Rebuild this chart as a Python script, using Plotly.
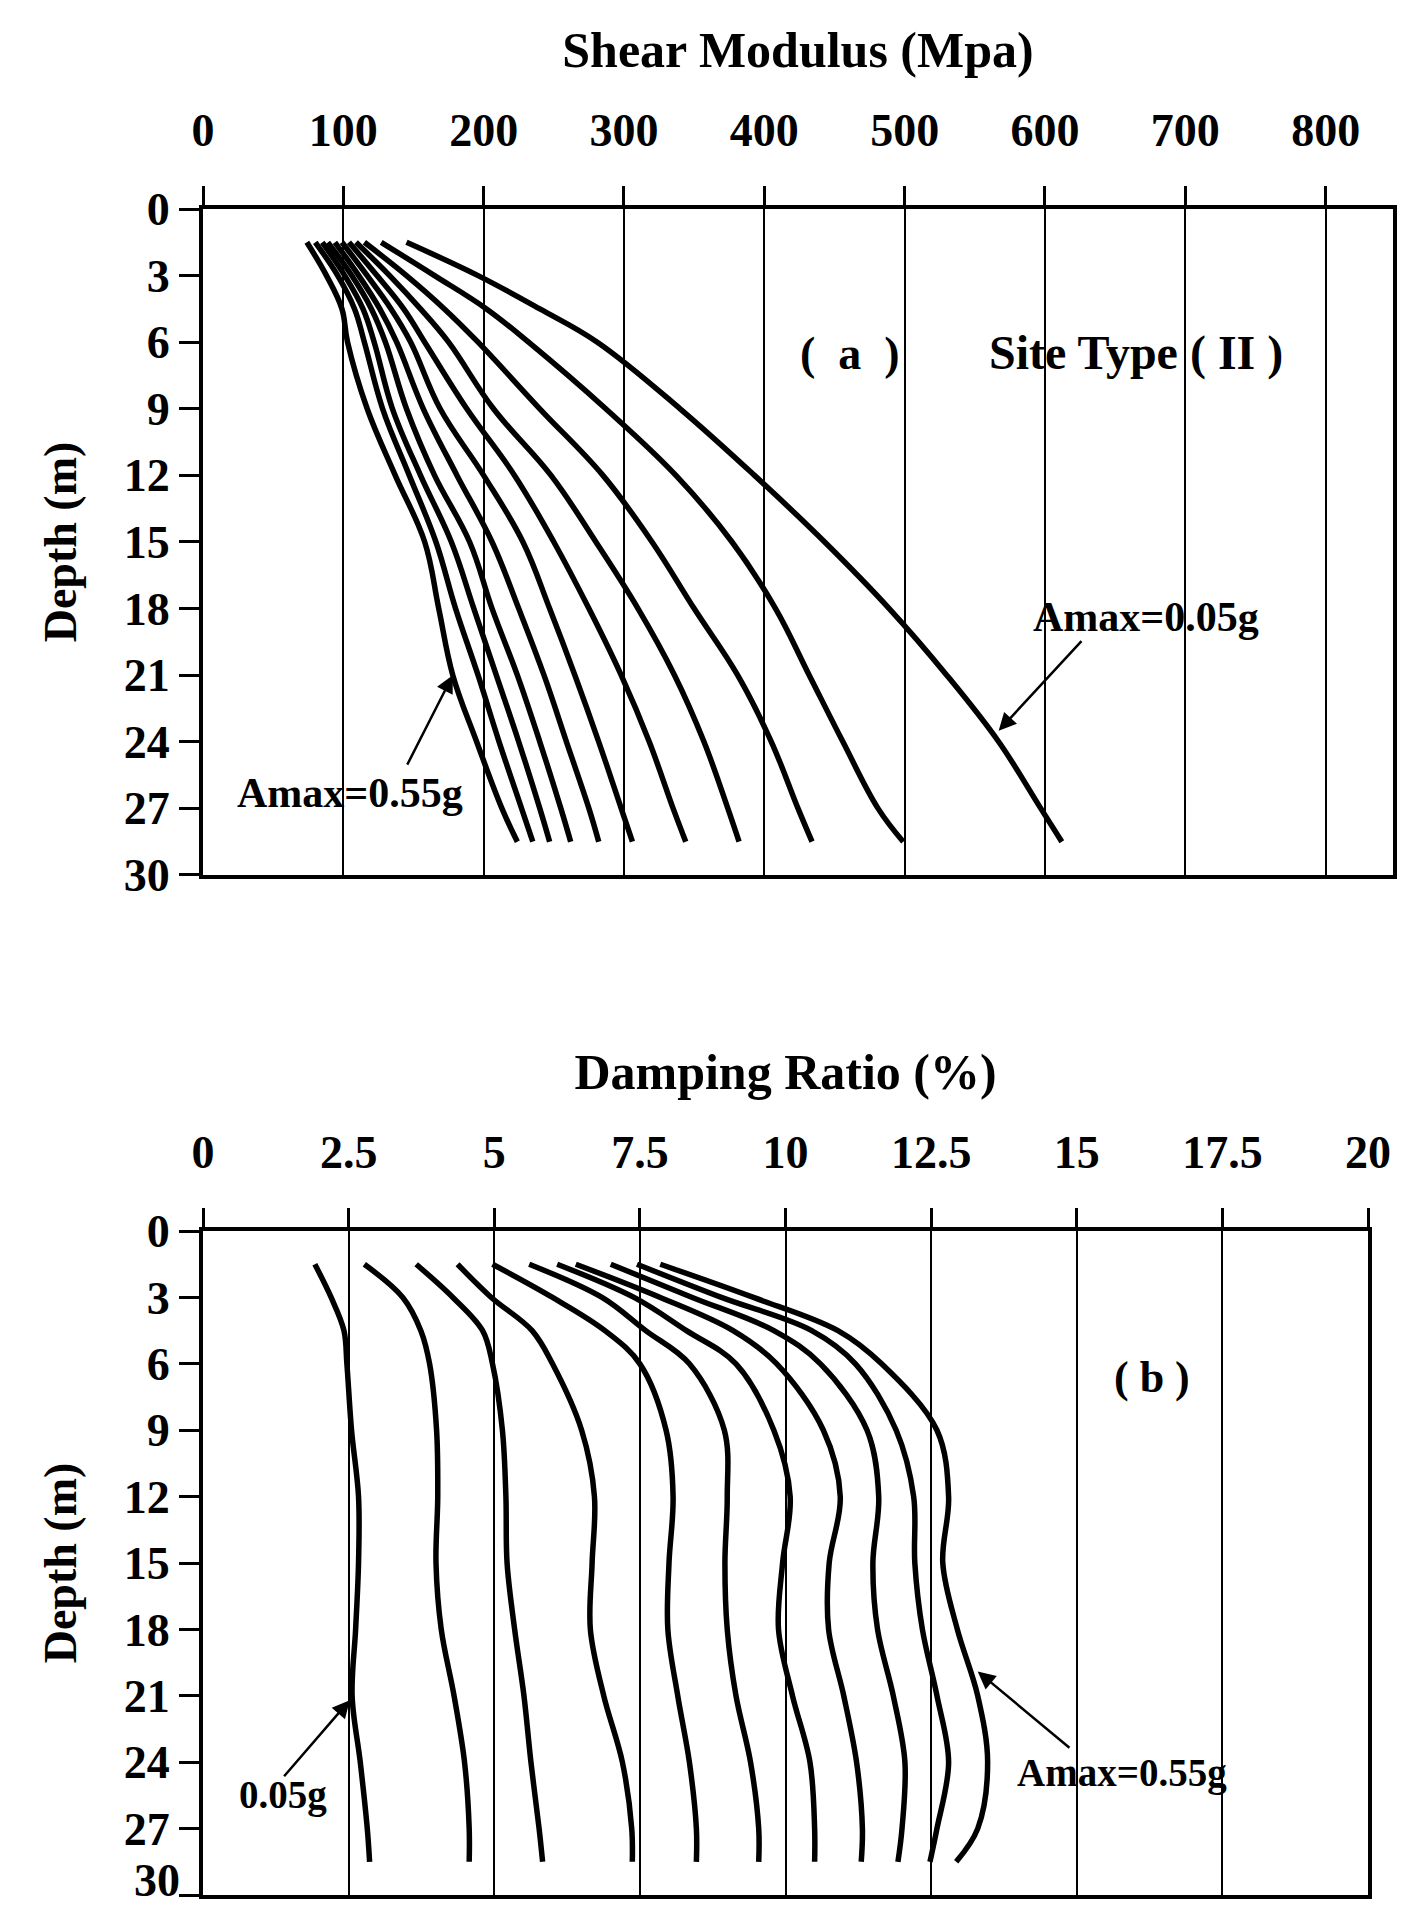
import plotly.graph_objects as go

# ---------------- data ----------------
depth = [1.5, 3, 4.5, 6, 9, 12, 15, 18, 21, 24, 27, 28.5]
amax_labels = ["0.05g", "0.10g", "0.15g", "0.20g", "0.25g", "0.30g",
               "0.35g", "0.40g", "0.45g", "0.50g", "0.55g"]

# Shear modulus (MPa) for each Amax
G_005 = [145, 196, 240, 281, 340, 393, 443, 489, 530, 567, 597, 612]
G_010 = [127, 165, 202, 232, 287, 337, 377, 408, 432, 456, 481, 499]
G_015 = [115, 145, 172, 196, 240, 285, 320, 350, 381, 405, 424, 434]
G_020 = [109, 133, 155, 175, 207, 248, 280, 310, 336, 357, 374, 382]
G_025 = [104, 124, 143, 158, 188, 222, 250, 275, 298, 318, 335, 344]
G_030 = [99, 117, 134, 148, 169, 200, 228, 247, 265, 282, 298, 306]
G_035 = [94, 111, 126, 138, 157, 181, 206, 225, 243, 259, 275, 282]
G_040 = [89, 106, 120, 130, 145, 165, 190, 206, 224, 240, 255, 262]
G_045 = [85, 101, 114, 122, 135, 155, 177, 193, 209, 225, 240, 247]
G_050 = [80, 96, 108, 115, 128, 147, 166, 180, 196, 211, 227, 235]
G_055 = [74, 88, 99, 103, 117, 137, 158, 168, 178, 195, 213, 224]

# Damping ratio (%) for each Amax
D_005 = [1.92, 2.20, 2.42, 2.47, 2.55, 2.67, 2.67, 2.62, 2.56, 2.70, 2.82, 2.86]
D_010 = [2.77, 3.43, 3.74, 3.89, 4.01, 4.03, 4.00, 4.09, 4.31, 4.49, 4.57, 4.57]
D_015 = [3.66, 4.29, 4.80, 4.97, 5.14, 5.20, 5.22, 5.35, 5.51, 5.63, 5.77, 5.83]
D_020 = [4.37, 4.95, 5.65, 6.00, 6.50, 6.72, 6.68, 6.65, 6.88, 7.20, 7.36, 7.37]
D_025 = [4.97, 6.00, 6.90, 7.50, 7.95, 8.07, 8.00, 7.98, 8.15, 8.35, 8.47, 8.47]
D_030 = [5.60, 6.85, 7.60, 8.35, 8.95, 9.00, 8.96, 9.00, 9.15, 9.40, 9.54, 9.54]
D_035 = [6.08, 7.40, 8.30, 9.15, 9.80, 10.08, 9.95, 9.88, 10.12, 10.42, 10.50, 10.50]
D_040 = [6.40, 7.85, 9.10, 9.85, 10.65, 10.94, 10.75, 10.74, 11.00, 11.22, 11.32, 11.30]
D_045 = [7.00, 8.40, 9.80, 10.60, 11.40, 11.60, 11.50, 11.58, 11.85, 12.05, 12.00, 11.93]
D_050 = [7.45, 8.90, 10.45, 11.20, 11.90, 12.20, 12.22, 12.35, 12.60, 12.80, 12.60, 12.48]
D_055 = [7.85, 9.45, 10.90, 11.65, 12.60, 12.80, 12.70, 12.95, 13.30, 13.47, 13.30, 12.93]

G_series = [G_005, G_010, G_015, G_020, G_025, G_030, G_035, G_040, G_045, G_050, G_055]
D_series = [D_005, D_010, D_015, D_020, D_025, D_030, D_035, D_040, D_045, D_050, D_055]

depth_ticks = [0, 3, 6, 9, 12, 15, 18, 21, 24, 27, 30]
depth_ticktext = ["0", "3", "6", "9", "12", "15", "18", "21", "24", "27", "30"]
# lower panel: the last label sits at the page edge, so it is drawn as a nudged annotation
depth_ticktext_low = ["0", "3", "6", "9", "12", "15", "18", "21", "24", "27", ""]
G_ticks = [0, 100, 200, 300, 400, 500, 600, 700, 800]
D_ticks = [0, 2.5, 5, 7.5, 10, 12.5, 15, 17.5, 20]
D_ticktext = ["0", "2.5", "5", "7.5", "10", "12.5", "15", "17.5", "20"]

# ---------------- figure ----------------
FONT = "Liberation Serif, Times New Roman, serif"
fig = go.Figure()

for name, g in zip(amax_labels, G_series):
    fig.add_trace(go.Scatter(x=g, y=depth, mode="lines", name=name,
                             line=dict(color="black", width=5.5, shape="spline", smoothing=1.1),
                             xaxis="x", yaxis="y"))
for name, d in zip(amax_labels, D_series):
    fig.add_trace(go.Scatter(x=d, y=depth, mode="lines", name=name,
                             line=dict(color="black", width=5.5, shape="spline", smoothing=1.0),
                             xaxis="x2", yaxis="y2"))

tickfont = dict(family=FONT, size=46, color="black", weight="bold")
titlefont = dict(family=FONT, size=50, color="black", weight="bold")

xcommon = dict(side="top", ticks="outside", ticklen=19, tickwidth=3, tickcolor="black",
               showline=True, linewidth=4, linecolor="black", mirror=True,
               showgrid=True, gridcolor="black", gridwidth=2, zeroline=False,
               tickfont=tickfont, ticklabelstandoff=22, automargin=False,
               ticklabeloverflow="allow")
ycommon = dict(autorange=False, range=[30, 0], tickvals=depth_ticks, ticks="outside",
               ticklen=20, tickwidth=3, tickcolor="black",
               showline=True, linewidth=4, linecolor="black", mirror=True,
               showgrid=False, zeroline=False, tickfont=tickfont, automargin=False,
               ticklabeloverflow="allow",
               title=dict(text="Depth (m)", font=dict(family=FONT, size=46, color="black", weight="bold"),
                          standoff=34))

fig.update_layout(
    width=1402, height=1905,
    margin=dict(l=203, r=9, t=209, b=10, autoexpand=False),
    paper_bgcolor="white", plot_bgcolor="white",
    showlegend=False,
    font=dict(family=FONT, color="black"),
    xaxis=dict(domain=[0, 1], anchor="y", range=[0, 848], tickvals=G_ticks,
               title=dict(text="Shear Modulus (Mpa)", font=titlefont, standoff=22), **xcommon),
    yaxis=dict(domain=[0.605, 1], anchor="x", ticktext=depth_ticktext, **ycommon),
    xaxis2=dict(domain=[0, 0.979], anchor="y2", range=[0, 20], tickvals=D_ticks,
                ticktext=D_ticktext,
                title=dict(text="Damping Ratio (%)", font=titlefont, standoff=22), **xcommon),
    yaxis2=dict(domain=[0, 0.3938], anchor="x2", ticktext=depth_ticktext_low, **ycommon),
)

afont = dict(family=FONT, size=46, color="black", weight="bold")
bfont = dict(family=FONT, size=44, color="black", weight="bold")
sfont = dict(family=FONT, size=42, color="black", weight="bold")
s2font = dict(family=FONT, size=39, color="black", weight="bold")

def label(x, y, text, xr, yr, font):
    fig.add_annotation(x=x, y=y, text=text, xref=xr, yref=yr, showarrow=False, font=font)

def arrow(x, y, ax, ay, xr, yr):
    fig.add_annotation(x=x, y=y, ax=ax, ay=ay, xref=xr, yref=yr, axref=xr, ayref=yr,
                       text="", showarrow=True, arrowhead=2, arrowsize=1.4,
                       arrowwidth=2.5, arrowcolor="black")

# panel (a)
label(461, 6.5, "(&nbsp; a &nbsp;)", "x", "y", afont)
label(665, 6.5, "Site Type ( II )", "x", "y", dict(afont, size=48))
label(672, 18.4, "Amax=0.05g", "x", "y", sfont)
arrow(567, 23.5, 627, 19.4, "x", "y")
label(105, 26.3, "Amax=0.55g", "x", "y", sfont)
arrow(178, 21.0, 145, 25.1, "x", "y")

# panel (b)
label(16.3, 6.6, "(&nbsp;b&nbsp;)", "x2", "y2", bfont)
label(15.77, 24.5, "Amax=0.55g", "x2", "y2", s2font)
arrow(13.3, 19.9, 14.9, 23.4, "x2", "y2")
label(1.37, 25.5, "0.05g", "x2", "y2", s2font)
arrow(2.52, 21.2, 1.37, 24.7, "x2", "y2")

# last depth label of the lower panel, kept inside the page
fig.add_annotation(x=0, y=depth_ticks[-1], xref="x2 domain", yref="y2",
                   text=depth_ticktext[-1], showarrow=False, font=tickfont,
                   xanchor="right", yanchor="bottom", xshift=-22, yshift=-12, borderpad=0)

# let the figure fill the window exactly (no default 8px body margin / scrollbars)
fig.write_html("out.html", config={"displayModeBar": False},
               post_script="document.body.style.margin='0px';document.body.style.overflow='hidden';")
